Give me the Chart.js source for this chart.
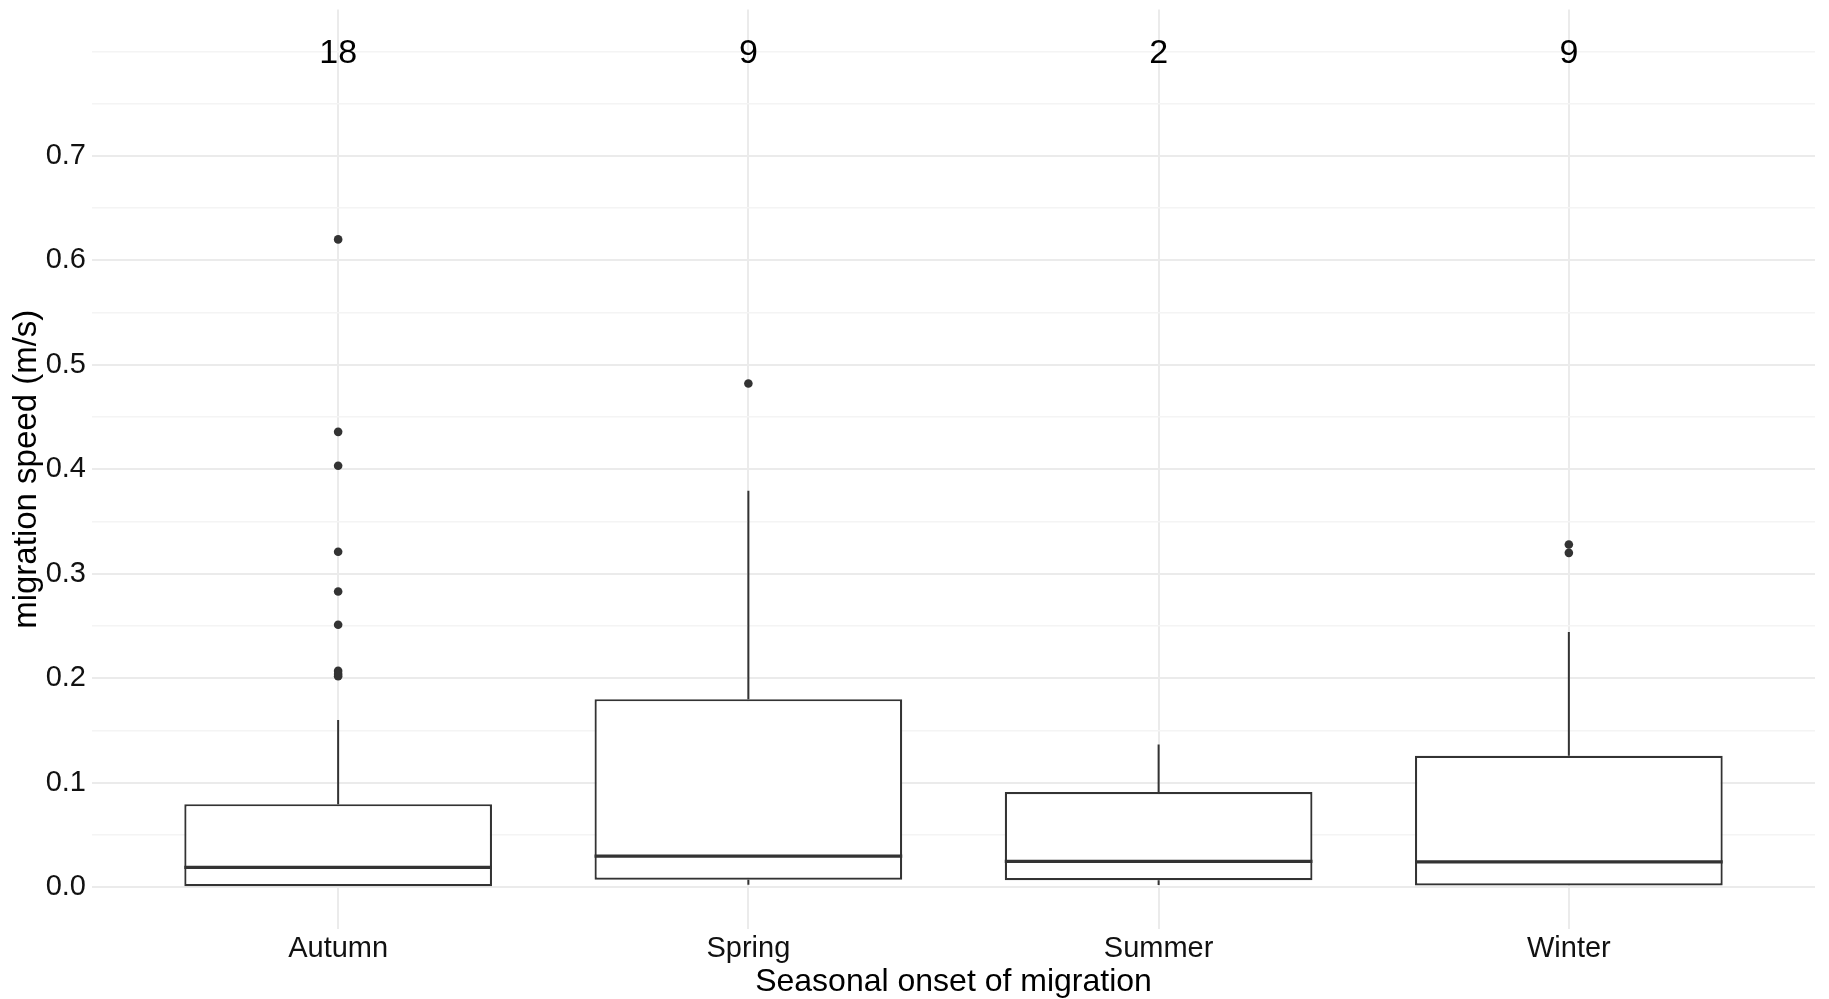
<!DOCTYPE html>
<html>
<head>
<meta charset="utf-8">
<script src="https://cdn.jsdelivr.net/npm/chart.js@4/dist/chart.umd.min.js"></script>
<style>
  html, body { margin: 0; padding: 0; background: #ffffff; }
  canvas { display: block; }
</style>
</head>
<body>
<canvas id="boxChart" width="1829" height="999"></canvas>
<script>
// categories and sample sizes shown above each box
var categories = ['Autumn', 'Spring', 'Summer', 'Winter'];
var counts = [18, 9, 2, 9];
var countLabelY = 0.8;

// box summary values (migration speed, m/s)
var lowerWhisker = [0.001, 0.0024, 0.0022, 0.0016];
var q1 = [0.001, 0.0072, 0.0067, 0.0016];
var median = [0.019, 0.0297, 0.0248, 0.0243];
var q3 = [0.0795, 0.180, 0.091, 0.1257];
var upperWhisker = [0.160, 0.3795, 0.1366, 0.2442];
var outliers = [
  [0.620, 0.4358, 0.4033, 0.321, 0.283, 0.2512, 0.207, 0.204, 0.202],
  [0.482],
  [],
  [0.328, 0.320]
];

// axis ticks
var xTicks = [0, 1, 2, 3];
var yTicks = [0, 0.05, 0.1, 0.15, 0.2, 0.25, 0.3, 0.35, 0.4, 0.45, 0.5, 0.55, 0.6, 0.65, 0.7, 0.75, 0.8];
var yTickLabels = ['0.0', '', '0.1', '', '0.2', '', '0.3', '', '0.4', '', '0.5', '', '0.6', '', '0.7', '', ''];

var BOX_WIDTH = 0.75;
var FONT = '"Liberation Sans", Arial, sans-serif';

//Build the datasets from the arrays above
var boxData = categories.map(function(c, i){
  return {x: i, y: [q1[i], q3[i]]};
});

var whiskerData = [];
var medianData = [];
var outlierData = [];
for(var i = 0; i < categories.length; i++){
  whiskerData.push({x: i, y: q3[i]}, {x: i, y: upperWhisker[i]}, {x: i, y: null});
  if(lowerWhisker[i] < q1[i]){
    whiskerData.push({x: i, y: lowerWhisker[i]}, {x: i, y: q1[i]}, {x: i, y: null});
  }
  medianData.push({x: i - BOX_WIDTH/2, y: median[i]}, {x: i + BOX_WIDTH/2, y: median[i]}, {x: i, y: null});
  outliers[i].forEach(function(v){ outlierData.push({x: i, y: v}); });
}

//Sample size text at the top of the panel
var countLabels = {
  id: 'countLabels',
  afterDatasetsDraw: function(chart){
    var ctx = chart.ctx;
    var xs = chart.scales.x, ys = chart.scales.y;
    ctx.save();
    ctx.font = '34px ' + FONT;
    ctx.fillStyle = '#000000';
    ctx.textAlign = 'center';
    ctx.textBaseline = 'middle';
    counts.forEach(function(n, i){
      ctx.fillText(String(n), xs.getPixelForValue(i), ys.getPixelForValue(countLabelY) + 2);
    });
    ctx.restore();
  }
};

var ctx = document.getElementById('boxChart');
var boxChart = new Chart(ctx, {
  type: 'bar',
  data: {
    datasets: [{
      type: 'scatter',
      label: 'outliers',
      data: outlierData,
      backgroundColor: '#333333',
      borderWidth: 0,
      pointRadius: 4.3,
      order: 1
    }, {
      type: 'line',
      label: 'median',
      data: medianData,
      borderColor: '#333333',
      borderWidth: 3.2,
      pointRadius: 0,
      fill: false,
      spanGaps: false,
      order: 2
    }, {
      type: 'line',
      label: 'whiskers',
      data: whiskerData,
      borderColor: '#333333',
      borderWidth: 2,
      pointRadius: 0,
      fill: false,
      spanGaps: false,
      order: 3
    }, {
      type: 'bar',
      label: 'box',
      data: boxData,
      backgroundColor: '#ffffff',
      borderColor: '#333333',
      borderWidth: 2.2,
      borderSkipped: false,
      barPercentage: BOX_WIDTH,
      categoryPercentage: 1,
      order: 4
    }]
  },
  options: {
    responsive: false,
    devicePixelRatio: 1,
    animation: false,
    layout: { padding: { top: 9.5, right: 14, left: 0, bottom: 0 } },
    plugins: {
      legend: { display: false },
      tooltip: { enabled: false }
    },
    scales: {
      x: {
        type: 'linear',
        min: -0.6,
        max: 3.6,
        offset: false,
        afterBuildTicks: function(scale){
          scale.ticks = xTicks.map(function(v){ return {value: v}; });
        },
        afterFit: function(scale){
          scale.height = 70;
          scale.paddingLeft = 0;
          scale.paddingRight = 0;
        },
        ticks: {
          padding: 3,
          color: '#111111',
          font: { family: FONT, size: 29 },
          callback: function(value, index){ return categories[index]; }
        },
        grid: { color: '#ebebeb', lineWidth: 2, drawTicks: false, offset: false },
        border: { display: false },
        title: {
          display: true,
          text: 'Seasonal onset of migration',
          color: '#000000',
          font: { family: FONT, size: 32, lineHeight: 1 },
          padding: { top: 0, bottom: 1 }
        }
      },
      y: {
        type: 'linear',
        min: -0.04,
        max: 0.84,
        afterBuildTicks: function(scale){
          scale.ticks = yTicks.map(function(v){ return {value: v}; });
        },
        afterFit: function(scale){
          scale.width = 92;
          scale.paddingTop = 0;
          scale.paddingBottom = 0;
        },
        ticks: {
          padding: 6,
          color: '#111111',
          font: { family: FONT, size: 29 },
          callback: function(value, index){ return yTickLabels[index]; }
        },
        grid: {
          drawTicks: false,
          color: function(c){ return yTickLabels[c.index] ? '#ebebeb' : '#f4f4f4'; },
          lineWidth: function(c){ return yTickLabels[c.index] ? 2 : 1.5; }
        },
        border: { display: false },
        title: {
          display: true,
          text: 'migration speed (m/s)',
          color: '#000000',
          font: { family: FONT, size: 33 },
          padding: { top: 7, bottom: 0 }
        }
      }
    }
  },
  plugins: [countLabels]
});
</script>
</body>
</html>
